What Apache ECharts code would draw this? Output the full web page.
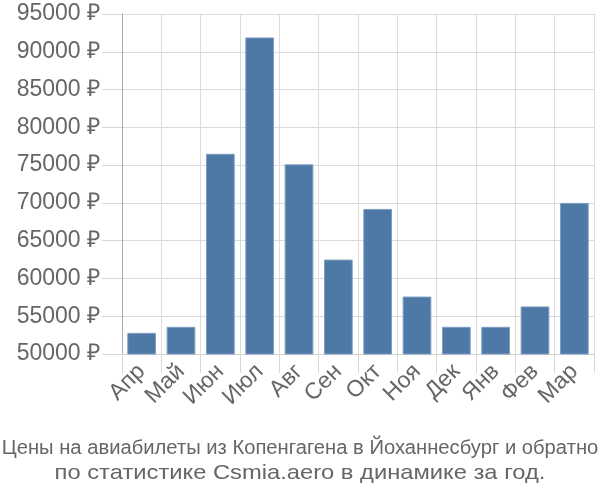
<!DOCTYPE html>
<html><head><meta charset="utf-8">
<script src="https://cdn.jsdelivr.net/npm/echarts@6/dist/echarts.min.js"></script>
<style>html,body{margin:0;padding:0;background:#fff}#c{width:600px;height:500px}</style>
</head><body><div id="c"></div>
<script>
const months = ['Апр','Май','Июн','Июл','Авг','Сен','Окт','Ноя','Дек','Янв','Фев','Мар'];
const prices = [52800, 53600, 76500, 91900, 75100, 62500, 69200, 57600, 53600, 53600, 56300, 70000];
const titleLine1 = 'Цены на авиабилеты из Копенгагена в Йоханнесбург и обратно';
const titleLine2 = 'по статистике Csmia.aero в динамике за год.';
const yMin = 50000, yMax = 95000, yStep = 5000;

const chart = echarts.init(document.getElementById('c'));
const font = 'Liberation Sans, Arial, sans-serif';
chart.setOption({
  animation: false,
  grid: {left: 122, right: 6, top: 14, bottom: 146, containLabel: false},
  xAxis: {
    type: 'category', data: months, boundaryGap: true,
    axisLine: {show: true, lineStyle: {color: '#d0d0d0', width: 1}},
    axisTick: {show: true, interval: 0, length: 19, lineStyle: {color: '#d8d8d8'}},
    splitLine: {show: true, interval: 0, lineStyle: {color: '#dcdcdc', width: 1}},
    axisLabel: {interval: 0, rotate: 45, margin: 14, fontSize: 23, color: '#666', fontFamily: font}
  },
  yAxis: {
    type: 'value', min: yMin, max: yMax, interval: yStep,
    axisLine: {show: true, lineStyle: {color: '#aaa', width: 1}},
    axisTick: {show: true, length: 20, lineStyle: {color: '#d8d8d8'}},
    splitLine: {show: true, lineStyle: {color: '#dcdcdc', width: 1}},
    axisLabel: {formatter: v => v + ' ₽', margin: 22, fontSize: 23, color: '#666', fontFamily: font}
  },
  series: [{
    type: 'bar', data: prices, barWidth: '73%',
    itemStyle: {color: '#4e78a6', borderColor: '#7f9ec2', borderWidth: 1}
  }],
  graphic: [
    {type: 'text', x: 300, y: 448, scaleX: 1.01, style: {text: titleLine1, x: 0, y: 0, align: 'center', verticalAlign: 'middle', fontSize: 20, fill: '#666', fontFamily: font}},
    {type: 'text', x: 300, y: 473, scaleX: 1.13, style: {text: titleLine2, x: 0, y: 0, align: 'center', verticalAlign: 'middle', fontSize: 21, fill: '#666', fontFamily: font}}
  ]
});
</script></body></html>
